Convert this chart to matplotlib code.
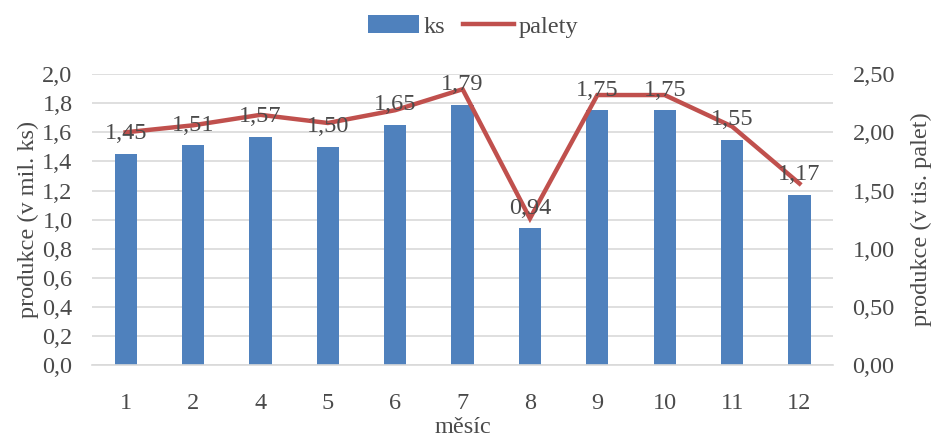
import matplotlib
matplotlib.use("Agg")
import matplotlib.pyplot as plt
from matplotlib.ticker import FuncFormatter, FixedLocator
import numpy as np

months = ["1", "2", "4", "5", "6", "7", "8", "9", "10", "11", "12"]
ks = [1.45, 1.51, 1.57, 1.50, 1.65, 1.79, 0.94, 1.75, 1.75, 1.55, 1.17]
palety = [2.00, 2.06, 2.15, 2.08, 2.19, 2.37, 1.26, 2.32, 2.32, 2.05, 1.56]

bar_color = "#4F81BD"
line_color = "#C0504D"
text_color = "#4A4A4A"
grid_color = "#D9D9D9"

plt.rcParams["font.family"] = ["Liberation Serif", "DejaVu Serif"]
fs = 17.5

fig = plt.figure(figsize=(9.33, 4.41), dpi=100)
ax = fig.add_axes([0.0986, 0.172, 0.7944, 0.66])
ax2 = ax.twinx()

x = np.arange(len(months))
bars = ax.bar(x, ks, width=0.33, color=bar_color, zorder=2, label="ks")
ln, = ax2.plot(x, palety, color=line_color, lw=3.2, solid_joinstyle="miter",
               zorder=3, label="palety")

ax.set_xlim(-0.5, len(months) - 0.5)
ax.set_ylim(0, 2.0)
ax2.set_ylim(0, 2.5)
ax.yaxis.set_major_locator(FixedLocator(np.arange(0, 2.01, 0.2)))
ax2.yaxis.set_major_locator(FixedLocator(np.arange(0, 2.51, 0.5)))
ax.yaxis.set_major_formatter(FuncFormatter(lambda v, p: f"{v:.1f}".replace(".", ",")))
ax2.yaxis.set_major_formatter(FuncFormatter(lambda v, p: f"{v:.2f}".replace(".", ",")))

ax.set_xticks(x)
ax.set_xticklabels(months)

for a in (ax, ax2):
    for s in a.spines.values():
        s.set_visible(False)
    a.tick_params(length=0, colors=text_color, labelsize=fs)
ax.tick_params(axis="y", pad=14)
ax2.tick_params(axis="y", pad=14)
ax.tick_params(axis="x", pad=20)

ax.grid(axis="y", color=grid_color, lw=1.2, zorder=0)
ax.set_axisbelow(True)
ax.spines["bottom"].set_visible(True)
ax.spines["bottom"].set_color(grid_color)
ax.spines["bottom"].set_linewidth(1.2)

ax.set_zorder(ax2.get_zorder() - 1)
ax.patch.set_visible(False)
ax2.patch.set_visible(False)

# value labels above the bars (drawn on the top axes so the line does not hide them)
for xi, v in zip(x, ks):
    ax2.annotate(f"{v:.2f}".replace(".", ","), xy=(xi, v * 2.5 / 2.0),
                 xytext=(0, 7), textcoords="offset points", ha="center",
                 va="bottom", color=text_color, fontsize=fs, zorder=4)

ax.set_ylabel("produkce (v mil. ks)", color=text_color, fontsize=fs, labelpad=2)
ax2.set_ylabel("produkce (v tis. palet)", color=text_color, fontsize=fs, labelpad=11)
ax.set_xlabel("měsíc", color=text_color, fontsize=fs, labelpad=2)

leg = fig.legend(handles=[bars, ln], labels=["ks", "palety"], loc="upper center",
                 bbox_to_anchor=(0.507, 1.015), ncol=2, frameon=False, fontsize=fs,
                 handlelength=2.1, handleheight=0.75, handletextpad=0.2,
                 columnspacing=0.7)
for t in leg.get_texts():
    t.set_color(text_color)

fig.savefig("out.png", dpi=100)
